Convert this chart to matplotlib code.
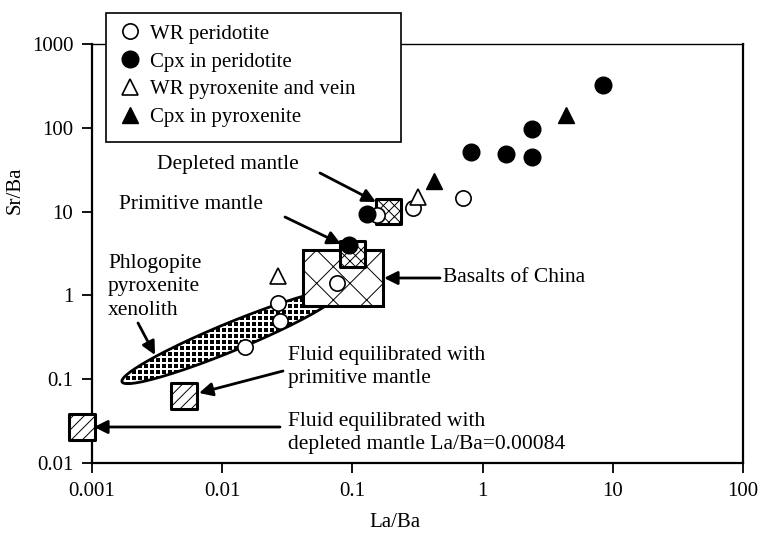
import matplotlib.pyplot as plt
import numpy as np
from matplotlib.lines import Line2D
from matplotlib.patches import Rectangle

plt.rcParams['font.family'] = ['Liberation Serif', 'DejaVu Serif']
plt.rcParams['hatch.linewidth'] = 0.7

# WR peridotite (open circles)
wr_perid_la = [0.71, 0.29, 0.155, 0.076, 0.027, 0.028, 0.015]
wr_perid_sr = [14.5, 11.0, 9.0, 1.4, 0.81, 0.50, 0.24]
# Cpx in peridotite (filled circles)
cpx_perid_la = [8.4, 2.4, 0.81, 1.5, 2.4, 0.13, 0.095]
cpx_perid_sr = [325, 97, 51, 49, 45, 9.4, 4.0]
# WR pyroxenite and vein (open triangles)
wr_pyrox_la = [0.32, 0.027]
wr_pyrox_sr = [15.0, 1.7]
# Cpx in pyroxenite (filled triangles)
cpx_pyrox_la = [4.4, 0.42]
cpx_pyrox_sr = [142, 23]

# reservoirs, (La/Ba, Sr/Ba)
depleted_mantle = (0.19, 10.0)
primitive_mantle = (0.10, 3.1)
fluid_pm = (0.0051, 0.063)
fluid_dm = (0.00084, 0.027)
basalt_la = [0.042, 0.172]
basalt_sr = [0.75, 3.5]
# long axis of the phlogopite pyroxenite xenolith field
xenolith_la = [0.0017, 0.080]
xenolith_sr = [0.093, 1.10]

xticks = [0.001, 0.01, 0.1, 1, 10, 100]
xtick_labels = ['0.001', '0.01', '0.1', '1', '10', '100']
yticks = [0.01, 0.1, 1, 10, 100, 1000]
ytick_labels = ['0.01', '0.1', '1', '10', '100', '1000']

W, H = 759, 548
fig = plt.figure(figsize=(W / 100, H / 100), dpi=100)
ax = fig.add_axes([92 / W, 1 - 463 / H, (743 - 92) / W, (463 - 44) / H])
ax.set_xscale('log')
ax.set_yscale('log')
ax.set_xlim(xticks[0], xticks[-1])
ax.set_ylim(yticks[0], yticks[-1])
ax.set_xticks(xticks, xtick_labels)
ax.set_yticks(yticks, ytick_labels)
ax.minorticks_off()
ax.tick_params(direction='out', length=7, width=1.3, labelsize=15, pad=6.5)
for side in ['left', 'bottom', 'right']:
  ax.spines[side].set_linewidth(1.6)
ax.spines['top'].set_linewidth(1.0)
ax.set_xlabel('La/Ba', fontsize=15)
ax.set_ylabel('Sr/Ba', fontsize=15)
ax.xaxis.set_label_coords(0.465, -0.12)
ax.yaxis.set_label_coords(-0.103, 0.65)


def pix(x, y):
  # reference pixel position -> data coordinates
  return tuple(ax.transData.inverted().transform((x, H - y)))


# xenolith field: ellipse built in display space, then mapped to data
to_data = ax.transData.inverted()
p0 = ax.transData.transform((xenolith_la[0], xenolith_sr[0]))
p1 = ax.transData.transform((xenolith_la[1], xenolith_sr[1]))
cen = (p0 + p1) / 2
d = p1 - p0
a = np.hypot(*d) / 2
b = 14.0
ang = np.arctan2(d[1], d[0])
t = np.linspace(0, 2 * np.pi, 200)
ex = cen[0] + a * np.cos(t) * np.cos(ang) - b * np.sin(t) * np.sin(ang)
ey = cen[1] + a * np.cos(t) * np.sin(ang) + b * np.sin(t) * np.cos(ang)
ell = to_data.transform(np.column_stack([ex, ey]))
poly = ax.fill(ell[:, 0], ell[:, 1], facecolor='white', edgecolor='none',
               zorder=2)[0]
# square dot texture inside the field
gx, gy = np.meshgrid(np.arange(ex.min(), ex.max(), 6.0),
                     np.arange(ey.min(), ey.max(), 6.0))
dots = to_data.transform(np.column_stack([gx.ravel(), gy.ravel()]))
dot_line, = ax.plot(dots[:, 0], dots[:, 1], 's', ms=2.3, mew=0,
                    color='black', zorder=2.1)
dot_line.set_clip_path(poly)
ax.plot(ell[:, 0], ell[:, 1], color='black', lw=2, zorder=2.2)

# basalts of China
ax.add_patch(Rectangle((basalt_la[0], basalt_sr[0]),
                       basalt_la[1] - basalt_la[0], basalt_sr[1] - basalt_sr[0],
                       facecolor='white', edgecolor='black', linewidth=2.2,
                       hatch='x', zorder=3))

# small reservoir boxes
for (bx, by), hatch in [(depleted_mantle, 'xxx'), (primitive_mantle, 'xxx'),
                        (fluid_pm, '///'), (fluid_dm, '///')]:
  ax.scatter([bx], [by], marker='s', s=340, facecolor='white',
             edgecolor='black', linewidth=2.2, hatch=hatch, zorder=4,
             clip_on=False)

ax.plot(wr_perid_la, wr_perid_sr, 'o', ms=11, mfc='white', mec='black',
        mew=1.2, zorder=5)
ax.plot(cpx_perid_la, cpx_perid_sr, 'o', ms=12, color='black', zorder=5)
ax.plot(wr_pyrox_la, wr_pyrox_sr, '^', ms=12, mfc='white', mec='black',
        mew=1.2, zorder=5)
ax.plot(cpx_pyrox_la, cpx_pyrox_sr, '^', ms=12, color='black', zorder=5)

# labels and arrows
arrow = dict(arrowstyle='-|>', color='black', lw=2, mutation_scale=20,
             shrinkA=0, shrinkB=0)
notes = [
  ('Depleted mantle', (157, 165), (320, 173), (376, 202)),
  ('Primitive mantle', (119, 205), (285, 217), (341, 244)),
  ('Basalts of China', (443, 278), (440, 278), (384, 278)),
  ('Phlogopite\npyroxenite\nxenolith', (108, 287), (138, 323), (155, 355)),
  ('Fluid equilibrated with\nprimitive mantle', (288, 367), (283, 371),
   (199, 393)),
  ('Fluid equilibrated with\ndepleted mantle La/Ba=0.00084', (288, 433),
   (280, 427), (94, 427)),
]
for txt, tpos, tail, tip in notes:
  ax.text(*pix(*tpos), txt, fontsize=15.5, ha='left', va='center',
          linespacing=1.3, zorder=6)
  ax.annotate('', xy=pix(*tip), xytext=pix(*tail), arrowprops=arrow,
              annotation_clip=False, zorder=6)

# legend box sits over the top spine
fig.patches.append(Rectangle((106 / W, 1 - 142 / H), 295 / W, 129 / H,
                             transform=fig.transFigure, facecolor='white',
                             edgecolor='black', linewidth=1.2, zorder=3))
handles = [
  Line2D([], [], ls='', marker='o', ms=11, mfc='white', mec='black', mew=1.2),
  Line2D([], [], ls='', marker='o', ms=12, color='black'),
  Line2D([], [], ls='', marker='^', ms=12, mfc='white', mec='black', mew=1.2),
  Line2D([], [], ls='', marker='^', ms=12, color='black'),
]
labels = ['WR peridotite', 'Cpx in peridotite', 'WR pyroxenite and vein',
          'Cpx in pyroxenite']
leg = fig.legend(handles, labels, loc='upper left',
                 bbox_to_anchor=(120 / W, 1 - 24 / H), frameon=False,
                 fontsize=15, borderpad=0, borderaxespad=0, handlelength=1.0,
                 handletextpad=0.45, labelspacing=0.4)
leg.set_zorder(5)

fig.savefig('out.png', dpi=100)
